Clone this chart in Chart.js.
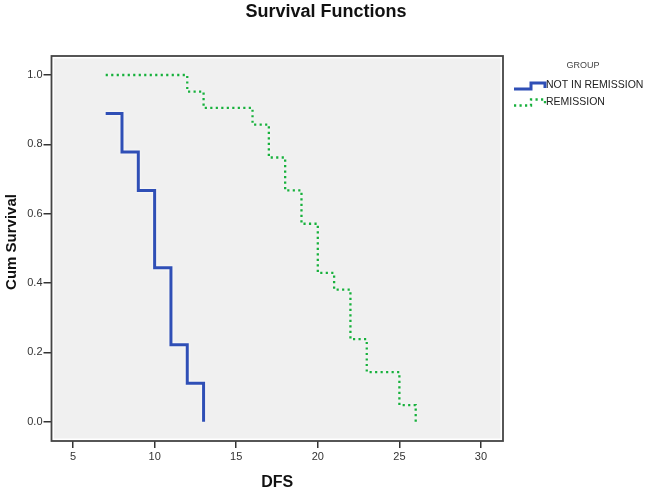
<!DOCTYPE html>
<html>
<head>
<meta charset="utf-8">
<script src="https://cdn.jsdelivr.net/npm/chart.js@4"></script>
<style>
  body { margin: 0; background: #fff; }
  #wrap { width: 650px; height: 494px; }
</style>
</head>
<body>
<div id="wrap"><canvas id="km-chart" width="650" height="494"></canvas></div>
<script>
// survival steps
var notRemTime = [7, 8, 9, 10, 11, 12, 13];
var notRemSurv = [0.889, 0.778, 0.667, 0.444, 0.222, 0.111, 0.0];
var remTime = [7, 12, 13, 16, 17, 18, 19, 20, 21, 22, 23, 25, 26];
var remSurv = [1.0, 0.952, 0.905, 0.857, 0.762, 0.667, 0.571, 0.429, 0.381, 0.238, 0.143, 0.048, 0.0];
var groupNames = ["NOT IN REMISSION", "REMISSION"];
var xTicks = [5, 10, 15, 20, 25, 30];
var yTicks = [0.0, 0.2, 0.4, 0.6, 0.8, 1.0];

var chartTitle = "Survival Functions";
var yTitle = "Cum Survival";
var legendTitle = "GROUP";

var blue = "#2f4fb6";
var green = "#17b03c";
var fontFam = "'Liberation Sans', Arial, sans-serif";

function toPoints(xs, ys) {
    var pts = [];
    for (var i = 0; i < xs.length; i++) {
        pts.push({x: xs[i], y: ys[i]});
    }
    return pts;
}

var framePlugin = {
    id: "frame",
    beforeDatasetsDraw: function(chart) {
        var a = chart.chartArea;
        var ctx = chart.ctx;
        ctx.save();
        ctx.fillStyle = "#f0f0f0";
        ctx.fillRect(a.left + 2.5, a.top + 2.5, a.right - a.left - 5, a.bottom - a.top - 5);
        ctx.restore();
    },
    beforeDatasetDraw: function(chart) {
        chart.ctx.save();
        chart.ctx.shadowColor = "rgba(255,255,255,0.95)";
        chart.ctx.shadowBlur = 3;
    },
    afterDatasetDraw: function(chart) {
        chart.ctx.restore();
    },
    afterDraw: function(chart) {
        var a = chart.chartArea;
        var ctx = chart.ctx;
        ctx.save();
        ctx.strokeStyle = "#444";
        ctx.lineWidth = 1.8;
        ctx.strokeRect(a.left, a.top, a.right - a.left, a.bottom - a.top);

        // main title, centred on the whole picture
        ctx.fillStyle = "#111";
        ctx.font = "bold 18px " + fontFam;
        ctx.textAlign = "center";
        ctx.textBaseline = "middle";
        ctx.fillText(chartTitle, 326, 12);

        // y axis title
        ctx.save();
        ctx.translate(12, 242);
        ctx.rotate(-Math.PI / 2);
        ctx.font = "bold 15px " + fontFam;
        ctx.fillText(yTitle, 0, 0);
        ctx.restore();

        // legend box on the right
        ctx.fillStyle = "#444";
        ctx.font = "9px " + fontFam;
        ctx.fillText(legendTitle, 583, 66);

        ctx.font = "10.5px " + fontFam;
        ctx.textAlign = "left";
        ctx.fillStyle = "#222";
        chart.data.datasets.forEach(function(ds, i) {
            var y0 = 83 + i * 16.5;
            ctx.beginPath();
            ctx.strokeStyle = ds.borderColor;
            ctx.lineWidth = ds.borderWidth;
            ctx.setLineDash(ds.borderDash || []);
            ctx.moveTo(514, y0 + 6);
            ctx.lineTo(531, y0 + 6);
            ctx.lineTo(531, y0);
            ctx.lineTo(545, y0);
            ctx.lineTo(545, y0 + 5);
            ctx.stroke();
            ctx.setLineDash([]);
            ctx.fillText(ds.label, 546, y0 + 2.5);
        });
        ctx.restore();
    }
};

var ctx = document.getElementById("km-chart").getContext("2d");
var kmChart = new Chart(ctx, {
    type: "line",
    data: {
        datasets: [{
            label: groupNames[0],
            data: toPoints(notRemTime, notRemSurv),
            stepped: true,
            borderColor: blue,
            borderWidth: 3,
            pointRadius: 0,
            fill: false
        }, {
            label: groupNames[1],
            data: toPoints(remTime, remSurv),
            stepped: true,
            borderColor: green,
            borderWidth: 2.3,
            borderDash: [2.2, 3.3],
            pointRadius: 0,
            fill: false
        }]
    },
    options: {
        responsive: false,
        animation: false,
        layout: {padding: {left: 0, right: 147, top: 56, bottom: 2}},
        plugins: {
            legend: {display: false},
            tooltip: {enabled: false},
            title: {display: false}
        },
        scales: {
            x: {
                type: "linear",
                min: 3.68,
                max: 31.35,
                afterBuildTicks: function(scale) {
                    scale.ticks = xTicks.map(function(v) { return {value: v}; });
                },
                afterFit: function(scale) { scale.height = 51; },
                border: {display: false},
                grid: {display: true, drawOnChartArea: false, drawTicks: true, tickLength: 7, color: "#333", lineWidth: 1.5},
                ticks: {color: "#333", padding: 2, font: {family: fontFam, size: 11}},
                title: {
                    display: true,
                    text: "DFS",
                    color: "#111",
                    padding: 0,
                    font: {family: fontFam, size: 16, weight: "bold"}
                }
            },
            y: {
                min: -0.0557,
                max: 1.0548,
                afterBuildTicks: function(scale) {
                    scale.ticks = yTicks.map(function(v) { return {value: v}; });
                },
                afterFit: function(scale) { scale.width = 51.5; },
                border: {display: false},
                grid: {display: true, drawOnChartArea: false, drawTicks: true, tickLength: 8, color: "#333", lineWidth: 1.5},
                ticks: {
                    color: "#333",
                    padding: 1,
                    font: {family: fontFam, size: 11},
                    callback: function(v) { return Number(v).toFixed(1); }
                }
            }
        }
    },
    plugins: [framePlugin]
});
</script>
</body>
</html>
